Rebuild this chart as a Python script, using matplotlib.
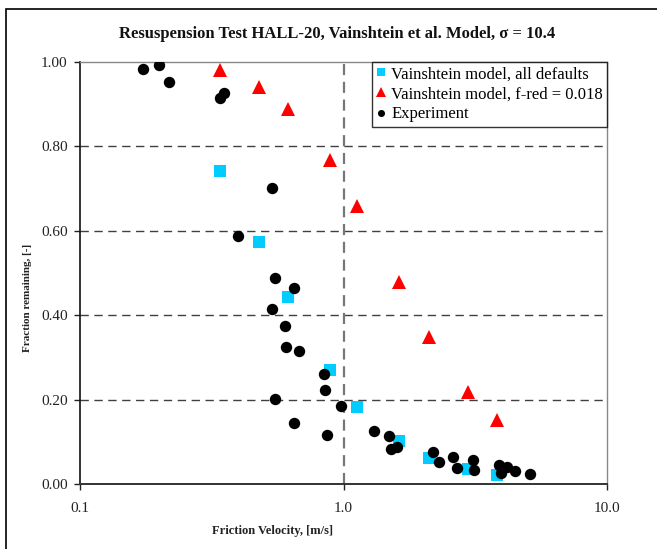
import matplotlib
matplotlib.use("Agg")
import matplotlib.pyplot as plt
from matplotlib.patches import Rectangle
from matplotlib.ticker import FixedLocator, FixedFormatter, NullLocator

# Data
defaults_x = [0.340, 0.479, 0.618, 0.885, 1.130, 1.619, 2.105, 2.975, 3.835]
defaults_y = [0.742, 0.573, 0.443, 0.270, 0.182, 0.102, 0.062, 0.036, 0.021]

fred_x = [0.340, 0.479, 0.618, 0.885, 1.130, 1.619, 2.105, 2.975, 3.835]
fred_y = [0.981, 0.941, 0.889, 0.768, 0.659, 0.479, 0.348, 0.218, 0.152]

exp_x = [0.174, 0.199, 0.218, 0.340, 0.353, 0.536, 0.399, 0.548, 0.649, 0.536,
         0.600, 0.607, 0.680, 0.845, 0.852, 0.548, 0.977, 0.649, 0.864, 1.30,
         1.49, 1.60, 1.51, 2.19, 2.30, 2.60, 2.70, 3.09, 3.13, 3.89,
         3.95, 4.19, 4.48, 5.11]
exp_y = [0.983, 0.992, 0.952, 0.914, 0.927, 0.702, 0.588, 0.489, 0.464, 0.415,
         0.375, 0.325, 0.314, 0.261, 0.222, 0.202, 0.185, 0.145, 0.117, 0.125,
         0.114, 0.088, 0.082, 0.077, 0.051, 0.064, 0.039, 0.056, 0.032, 0.046,
         0.025, 0.041, 0.030, 0.024]

x_ticks = [0.1, 1.0, 10.0]
x_tick_labels = ["0.1", "1.0", "10.0"]
y_ticks = [0.0, 0.2, 0.4, 0.6, 0.8, 1.0]
y_tick_labels = ["0.00", "0.20", "0.40", "0.60", "0.80", "1.00"]

title = "Resuspension Test HALL-20, Vainshtein et al. Model, σ = 10.4"
xlabel = "Friction Velocity, [m/s]"
ylabel = "Fraction remaining, [-]"
labels = ["Vainshtein model, all defaults", "Vainshtein model, f-red = 0.018", "Experiment"]

plt.rcParams['font.family'] = ['Liberation Serif', 'DejaVu Serif']

W, H = 657, 549
fig = plt.figure(figsize=(W / 100, H / 100), dpi=100)
ax = fig.add_axes([80 / W, (H - 484) / H, (607 - 80) / W, (484 - 62) / H])

# figure border (left/top visible, cropped right/bottom)
fig.patches.append(Rectangle((6 / W, -0.05), 1.2, (H - 9) / H + 0.05,
                             transform=fig.transFigure, fill=False,
                             edgecolor='black', linewidth=1.2))

ax.set_xscale('log')
ax.set_xlim(0.1, 10.0)
ax.set_ylim(0.0, 1.0)

# grid
for yv in [0.2, 0.4, 0.6, 0.8]:
    ax.axhline(yv, color='#404040', linewidth=1.0, dashes=(6, 4), zorder=1)
ax.axvline(1.0, color='#777777', linewidth=1.6, dashes=(5, 3), zorder=1)

ax.plot(defaults_x, defaults_y, linestyle='none', marker='s', markersize=9.3,
        color='#00CCFF', markeredgewidth=0, label=labels[0], zorder=3)
ax.plot(fred_x, fred_y, linestyle='none', marker='^', markersize=10.5,
        color='#FF0000', markeredgewidth=0, label=labels[1], zorder=3)
ax.plot(exp_x, exp_y, linestyle='none', marker='o', markersize=8.2,
        color='black', markeredgewidth=0, label=labels[2], zorder=4)

ax.xaxis.set_major_locator(FixedLocator(x_ticks))
ax.xaxis.set_major_formatter(FixedFormatter(x_tick_labels))
ax.xaxis.set_minor_locator(NullLocator())
ax.set_yticks(y_ticks)
ax.set_yticklabels(y_tick_labels)

ax.tick_params(axis='x', direction='out', length=4, width=1, pad=9,
               labelsize=11, colors='#222222')
ax.tick_params(axis='y', direction='out', length=4, width=1, pad=5,
               labelsize=11, colors='#222222')

for s in ['top', 'right']:
    ax.spines[s].set_color('#888888')
    ax.spines[s].set_linewidth(1.0)
ax.spines['left'].set_color('#111111')
ax.spines['left'].set_linewidth(1.2)
ax.spines['bottom'].set_color('#333333')
ax.spines['bottom'].set_linewidth(1.4)

ax.set_xlabel(xlabel, fontsize=9, fontweight='bold', color='#222222')
ax.xaxis.set_label_coords((272.5 - 80) / 527, -(531 - 484) / 422)
ax.xaxis.label.set_va('center')
ax.set_ylabel(ylabel, fontsize=8, fontweight='bold', color='#222222')
ax.yaxis.set_label_coords((28 - 80) / 527, (484 - 298) / 422)
ax.yaxis.label.set_va('center')

fig.text(337.5 / W, 1 - 34 / H, title, ha='center', va='center',
         fontsize=12, fontweight='bold', color='#111111')

leg = ax.legend(loc='upper right', bbox_to_anchor=(1.0, 1.0), borderaxespad=0,
                fontsize=12, frameon=True, fancybox=False, markerscale=0.62,
                handlelength=0.6, handletextpad=0.3, borderpad=0.25,
                labelspacing=0.25, edgecolor='black')
leg.get_frame().set_linewidth(1.0)
leg.set_zorder(5)

fig.savefig('out.png', dpi=100)
